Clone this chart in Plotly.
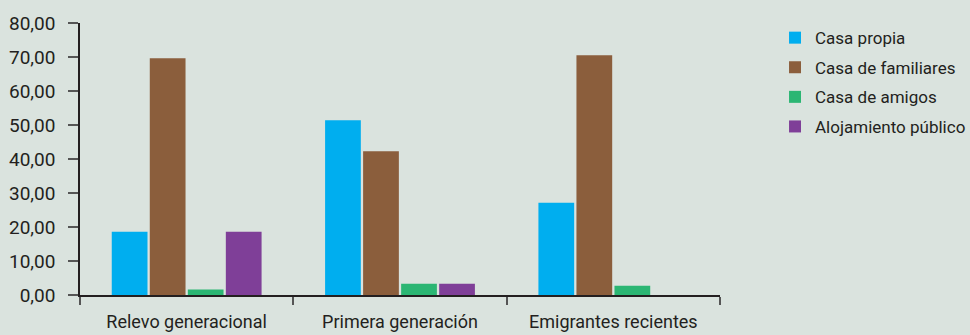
import plotly.graph_objects as go

# Grupos de población y tipo de alojamiento a la llegada (%)
categorias = ["Relevo generacional", "Primera generación", "Emigrantes recientes"]
series = ["Casa propia", "Casa de familiares", "Casa de amigos", "Alojamiento público"]
casa_propia = [18.6, 51.4, 27.1]
casa_familiares = [69.6, 42.3, 70.5]
casa_amigos = [1.6, 3.3, 2.7]
alojamiento_publico = [18.6, 3.3, None]
colores = ["#00aeef", "#8b5e3c", "#2bb673", "#7f3f98"]

valores = [casa_propia, casa_familiares, casa_amigos, alojamiento_publico]

FONT = "Roboto"
INK = "#231f20"
BG = "#dae3de"

fig = go.Figure()
for nombre, vals, color in zip(series, valores, colores):
    fig.add_trace(go.Bar(x=categorias, y=vals, name=nombre, legendgroup=nombre,
                         marker=dict(color=color, line=dict(width=0))))

fig.update_layout(
    template="none",
    width=970, height=335,
    paper_bgcolor=BG, plot_bgcolor=BG,
    barmode="group", bargap=0.287, bargroupgap=0.06,
    separators=",.",
    margin=dict(l=80, r=250, t=22.7, b=39.7, pad=0, autoexpand=False),
    font=dict(family=FONT, size=18, color=INK),
    legend=dict(xref="container", yref="container", x=0.799, y=0.94,
                xanchor="left", yanchor="top",
                bgcolor="rgba(0,0,0,0)",
                font=dict(family=FONT, size=17, color=INK),
                traceorder="grouped", tracegroupgap=4.5),
    showlegend=True,
)
fig.update_yaxes(range=[0, 80], dtick=10, tickformat=".2f", automargin=False,
                 showgrid=False, zeroline=False,
                 showline=True, linecolor=INK, linewidth=1.5,
                 ticks="outside", ticklen=10, tickwidth=1.5, tickcolor="#555555",
                 ticklabelstandoff=9,
                 tickfont=dict(family=FONT, size=19, color=INK))
fig.update_xaxes(automargin=False, showgrid=False, showline=True,
                 linecolor=INK, linewidth=2,
                 ticks="outside", tickson="boundaries", ticklen=8, tickwidth=1.5,
                 tickcolor="#555555", ticklabelstandoff=9,
                 tickfont=dict(family=FONT, size=18, color=INK))

fig.write_html("out.html")
